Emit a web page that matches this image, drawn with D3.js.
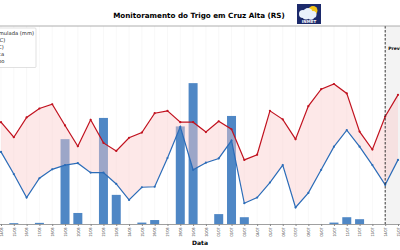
<!DOCTYPE html>
<html>
<head>
<meta charset="utf-8">
<script src="https://cdn.jsdelivr.net/npm/d3@7"></script>
<style>
    body { margin: 0; background: #fff; }
    svg { display: block; font-family: "DejaVu Sans", sans-serif; }
</style>
</head>
<body>
<div id="chart"></div>
<script>
//******************************************************************************
//**  Data
//******************************************************************************
var dates = ["14/06","15/06","16/06","17/06","18/06","19/06","20/06","21/06",
    "22/06","23/06","24/06","25/06","26/06","27/06","28/06","29/06","30/06",
    "01/07","02/07","03/07","04/07","05/07","06/07","07/07","08/07","09/07",
    "10/07","11/07","12/07","13/07","14/07","15/07"];

var tempMax = [16.6,13.4,17.6,19.5,20.4,15.9,11.5,17.1,12.2,10.5,13.3,14.4,
    18.5,19.0,16.6,16.6,14.5,16.8,15.1,8.6,9.7,19.0,17.2,13.0,20.0,23.6,24.7,
    22.7,14.6,10.8,17.8,22.4];

var tempMin = [10.3,5.6,0.6,4.7,6.6,7.5,7.9,5.9,5.9,3.5,0.1,2.8,2.9,9.0,15.6,
    6.5,8.0,8.9,12.7,-0.6,0.6,3.8,7.5,-1.5,1.6,6.5,11.4,14.9,11.4,7.5,3.3,8.6];

var chuva = [0,0.3,0,0.4,0,30.0,3.9,0,37.5,10.3,0,0.5,1.4,0,34.5,49.8,0,3.5,
    38.2,2.4,0,0,0,0,0,0,0.5,2.4,1.7,0,0,0];

var inicioPrevisao = "14/07";

var legendLabels = ["Precipitação Acumulada (mm)","Temp. Máxima (°C)",
    "Temp. Mínima (°C)","Amplitude Térmica","Previsão do Tempo"];


//******************************************************************************
//**  Chart
//******************************************************************************
var width = 400, height = 250;
var plotTop = 26, plotBottom = 224;
var parse = function(s){ return d3.timeParse("%d/%m/%Y")(s + "/2023"); };

var records = dates.map(function(d, i){
    return {date: parse(d), max: tempMax[i], min: tempMin[i], chuva: chuva[i]};
});

var svg = d3.select("#chart").append("svg")
    .attr("width", width).attr("height", height);

var x = d3.scaleTime()
    .domain([parse(dates[0]), parse(dates[dates.length-1])])
    .range([1, 398]);
var yT = d3.scaleLinear().domain([-5, 37]).range([plotBottom, plotTop]);
var yP = d3.scaleLinear().domain([0, 70]).range([plotBottom, plotTop]);

var ticks = records.map(function(r){ return r.date; });
var xPrev = x(parse(inicioPrevisao));

  // forecast background
svg.append("rect")
    .attr("x", xPrev).attr("y", plotTop)
    .attr("width", width - xPrev).attr("height", plotBottom - plotTop)
    .attr("fill", "#f3f3f3");

  // grid
svg.append("g").selectAll("line").data(ticks).join("line")
    .attr("x1", function(d){ return x(d); })
    .attr("x2", function(d){ return x(d); })
    .attr("y1", plotTop).attr("y2", plotBottom)
    .attr("stroke", "#f0f0f0").attr("stroke-width", 0.5);

  // bars
var barW = 9;
svg.append("g").selectAll("rect").data(records.filter(function(r){ return r.chuva > 0; }))
    .join("rect")
    .attr("x", function(d){ return x(d.date) - barW/2; })
    .attr("y", function(d){ return yP(d.chuva); })
    .attr("width", barW)
    .attr("height", function(d){ return plotBottom - yP(d.chuva); })
    .attr("fill", "#4f87c5");

  // thermal amplitude
var area = d3.area()
    .x(function(d){ return x(d.date); })
    .y0(function(d){ return yT(d.min); })
    .y1(function(d){ return yT(d.max); });
svg.append("path").datum(records)
    .attr("d", area)
    .attr("fill", "rgb(250,205,205)")
    .attr("fill-opacity", 0.45);

  // lines
var addLine = function(key, color){
    var line = d3.line()
        .x(function(d){ return x(d.date); })
        .y(function(d){ return yT(d[key]); });
    svg.append("path").datum(records)
        .attr("d", line)
        .attr("fill", "none")
        .attr("stroke", color)
        .attr("stroke-width", 1.2);
    svg.append("g").selectAll("circle").data(records).join("circle")
        .attr("cx", function(d){ return x(d.date); })
        .attr("cy", function(d){ return yT(d[key]); })
        .attr("r", 1.1)
        .attr("fill", color);
};
addLine("max", "#c1121f");
addLine("min", "#2b6cb8");

  // forecast marker
svg.append("line")
    .attr("x1", xPrev).attr("x2", xPrev)
    .attr("y1", plotTop).attr("y2", plotBottom)
    .attr("stroke", "#222").attr("stroke-width", 0.9)
    .attr("stroke-dasharray", "2.5,1.5");
svg.append("text")
    .attr("x", xPrev + 3).attr("y", 50)
    .attr("font-size", 4.5).attr("font-weight", "bold")
    .text("Previsão");

  // spines
svg.append("line").attr("x1", 0).attr("x2", width).attr("y1", plotTop).attr("y2", plotTop)
    .attr("stroke", "#999").attr("stroke-width", 0.8);

var xAxis = svg.append("g")
    .attr("transform", "translate(0," + plotBottom + ")")
    .call(d3.axisBottom(x).tickValues(ticks).tickFormat(d3.timeFormat("%d/%m"))
        .tickSize(2).tickSizeOuter(0));
xAxis.select(".domain").attr("stroke", "#888").attr("stroke-width", 0.8)
    .attr("d", "M0,0.5H" + width);
xAxis.selectAll(".tick line").attr("stroke", "#888");
xAxis.selectAll("text")
    .attr("font-size", 3.6)
    .attr("fill", "#333")
    .attr("transform", "rotate(-90)")
    .attr("text-anchor", "end")
    .attr("x", -3.5).attr("y", 0)
    .attr("dy", "0.35em");

svg.append("text")
    .attr("x", 200).attr("y", 245)
    .attr("text-anchor", "middle")
    .attr("font-size", 6).attr("font-weight", "bold")
    .text("Data");

  // title
svg.append("text")
    .attr("x", 199).attr("y", 18)
    .attr("text-anchor", "middle")
    .attr("font-size", 7.2).attr("font-weight", "bold")
    .text("Monitoramento do Trigo em Cruz Alta (RS)");

  // legend
var lg = svg.append("g");
lg.append("rect")
    .attr("x", -90).attr("y", 28).attr("width", 126).attr("height", 39.5)
    .attr("rx", 1).attr("fill", "#fff").attr("fill-opacity", 0.9)
    .attr("stroke", "#ccc").attr("stroke-width", 0.6);
var lt = lg.selectAll("text").data(legendLabels).join("text")
    .attr("y", function(d, i){ return 34.5 + i*7.2; })
    .attr("font-size", 5.2)
    .attr("fill", "#222")
    .text(function(d){ return d; });
var firstLen = lt.node().getComputedTextLength();
lt.attr("x", 34 - firstLen);

  // INMET logo
var logo = svg.append("g").attr("transform", "translate(297,4)");
logo.append("rect").attr("width", 24).attr("height", 20).attr("fill", "#1c2a6b");
logo.append("circle").attr("cx", 16).attr("cy", 6.5).attr("r", 4.5).attr("fill", "#f5c518");
[[6,10,4],[11,8.5,4.5],[16,10.5,3.5],[9,12,3.5],[14,12.5,3.2]].forEach(function(c){
    logo.append("circle").attr("cx", c[0]).attr("cy", c[1]).attr("r", c[2])
        .attr("fill", "#e8f0fb");
});
logo.append("text").attr("x", 12).attr("y", 18.6).attr("text-anchor", "middle")
    .attr("font-size", 4).attr("font-weight", "bold").attr("fill", "#fff")
    .text("INMET");
</script>
</body>
</html>
